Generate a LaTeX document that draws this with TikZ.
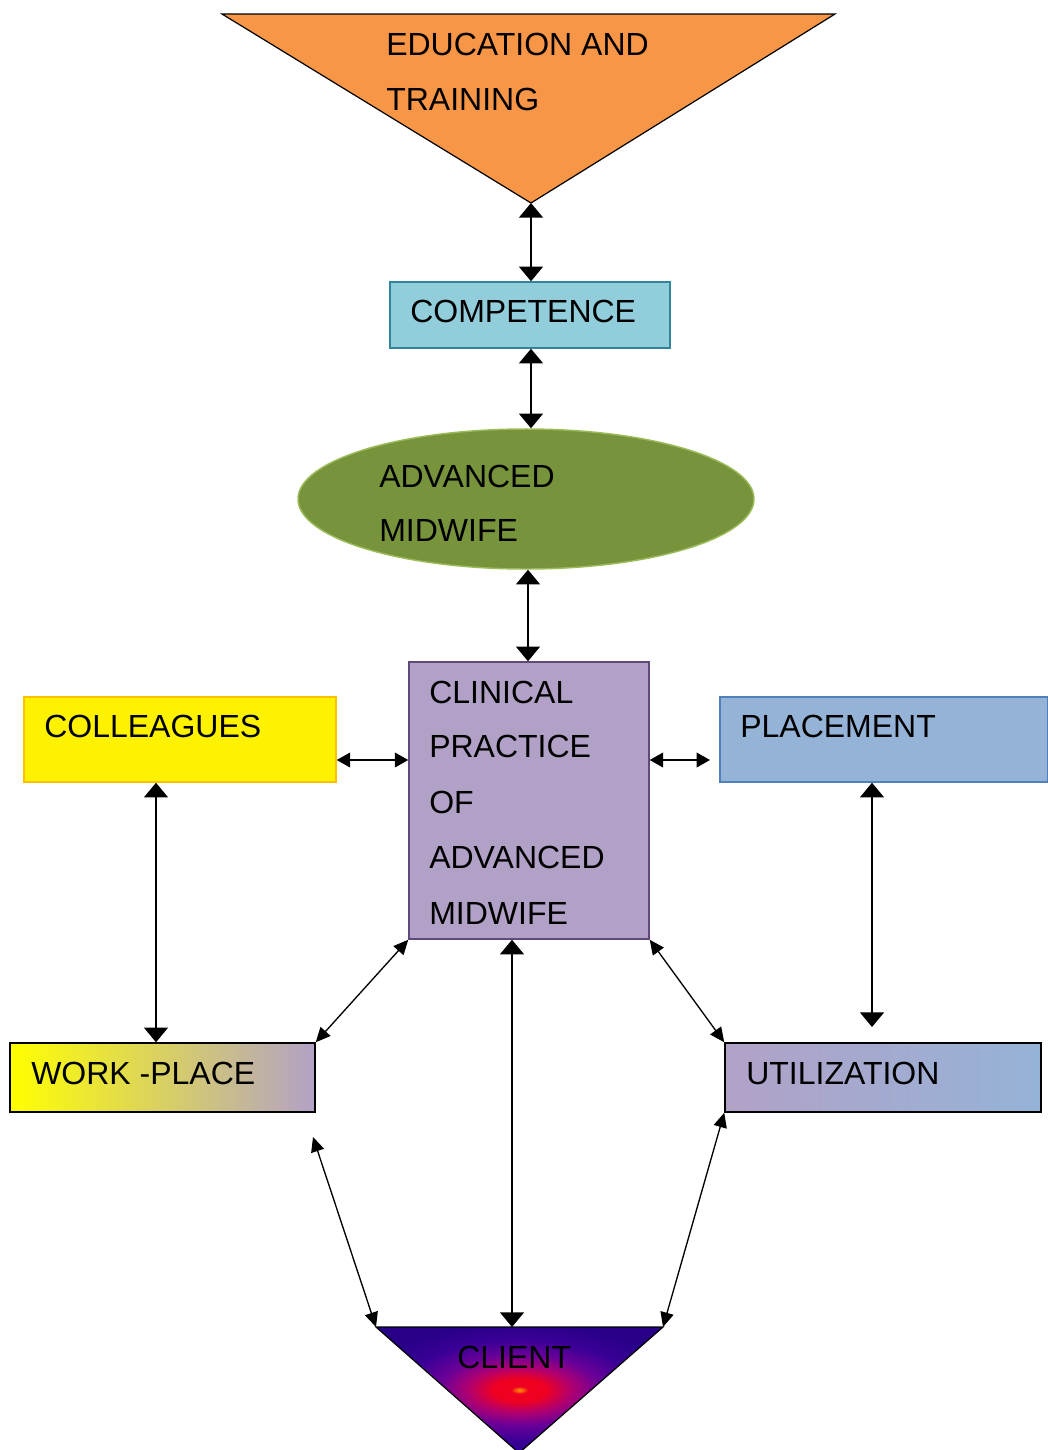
\documentclass[tikz,border=0pt]{standalone}
\usepackage{fontspec}
\setmainfont{Liberation Sans}
\usetikzlibrary{arrows.meta,shapes.geometric,calc}
\definecolor{eduorange}{HTML}{F79646}
\definecolor{compfill}{HTML}{92CDDC}
\definecolor{compline}{HTML}{31849B}
\definecolor{ellfill}{HTML}{77933C}
\definecolor{ellline}{HTML}{9BBB59}
\definecolor{clinfill}{HTML}{B2A1C7}
\definecolor{clinline}{HTML}{5F497A}
\definecolor{collline}{HTML}{FFC000}
\definecolor{placefill}{HTML}{95B3D7}
\definecolor{placeline}{HTML}{4F81BD}
\definecolor{clOrange}{HTML}{FF9A00}
\definecolor{clRed}{HTML}{F00020}
\definecolor{clMag}{HTML}{B00070}
\definecolor{clPur}{HTML}{6A0098}
\definecolor{clBlue}{HTML}{3A0096}
\definecolor{clNavy}{HTML}{280088}
\pgfdeclareradialshading{clientsh}{\pgfpointorigin}{color(0bp)=(clOrange); color(1.5bp)=(clRed); color(4.5bp)=(clRed); color(9bp)=(clMag); color(14bp)=(clPur); color(20bp)=(clBlue); color(27bp)=(clNavy); color(50bp)=(clNavy)}
\begin{document}
\begin{tikzpicture}[x=0.75pt,y=-0.75pt,
  lbl/.style={anchor=base west, inner sep=0pt, font=\fontsize{24pt}{28pt}\selectfont, text=black},
  boxb/.style={draw, line width=1.1pt, inner sep=0pt},
  dbig/.style={line width=1.1pt, {Triangle[length=11pt,width=18pt]}-{Triangle[length=11pt,width=18pt]}},
  dmid/.style={line width=1.1pt, {Triangle[length=10pt,width=11pt]}-{Triangle[length=10pt,width=11pt]}},
  dsml/.style={line width=1pt, {Triangle[length=11pt,width=10pt]}-{Triangle[length=11pt,width=10pt]}}]
\useasboundingbox (0,0) rectangle (1047,1450);

% top triangle
\draw[fill=eduorange, line width=0.9pt] (222,14) coordinate (eduL) -- (835,14) coordinate (eduR) -- (531,203) coordinate (eduA) -- cycle;
\node[lbl] (t1) at (386,55) {EDUCATION AND};
\node[lbl] (t2) at (386,110) {TRAINING};

% competence
\node[boxb, draw=compline, fill=compfill, minimum width=280*0.75pt, minimum height=66*0.75pt] (comp) at (530,315) {};
\node[lbl] (t3) at (410,322) {COMPETENCE};

% ellipse
\node[ellipse, draw=ellline, fill=ellfill, line width=1.1pt, inner sep=0pt, minimum width=456*0.75pt, minimum height=140*0.75pt] (ell) at (526,499) {};
\node[lbl] (t4) at (379,487) {ADVANCED};
\node[lbl] (t5) at (379,541) {MIDWIFE};

% clinical
\node[boxb, draw=clinline, fill=clinfill, minimum width=240*0.75pt, minimum height=277*0.75pt] (clin) at (529,800.5) {};
\node[lbl] (t6) at (429,703) {CLINICAL};
\node[lbl] (t7) at (429,757) {PRACTICE};
\node[lbl] (t8) at (429,813) {OF};
\node[lbl] (t9) at (429,868) {ADVANCED};
\node[lbl] (t10) at (429,924) {MIDWIFE};

% colleagues / placement
\node[boxb, draw=collline, fill=yellow, minimum width=312*0.75pt, minimum height=85*0.75pt] (coll) at (180,739.5) {};
\node[lbl] (t11) at (44,737) {COLLEAGUES};
\node[boxb, draw=placeline, fill=placefill, minimum width=328*0.75pt, minimum height=85*0.75pt] (place) at (884,739.5) {};
\node[lbl] (t12) at (740,737) {PLACEMENT};

% work-place / utilization
\node[boxb, draw=black, left color=yellow, right color=clinfill, minimum width=305*0.75pt, minimum height=69*0.75pt] (wp) at (162.5,1077.5) {};
\node[lbl] (t13) at (31,1084) {WORK -PLACE};
\node[boxb, draw=black, left color=clinfill, right color=placefill, minimum width=316*0.75pt, minimum height=69*0.75pt] (util) at (883,1077.5) {};
\node[lbl] (t14) at (746,1084) {UTILIZATION};

% client triangle
\shadedraw[shading=clientsh, draw=black, line width=0.9pt] (376,1327) coordinate (clL) -- (663,1327) coordinate (clR) -- (519,1453) coordinate (clA) -- cycle;
\node[lbl] (t15) at (457,1368) {CLIENT};

% helper coordinates
\coordinate (hl) at (0,760);
\coordinate (vl) at (156,0);
\coordinate (vr) at (872,0);
\coordinate (vc) at (512,0);
\coordinate (vm) at (528,0);
\coordinate (plEnd) at (710,760);
\coordinate (prEnd) at (872,1027);
\coordinate (wpFree) at (313,1137);
\coordinate (clT) at (512,1327);

% connectors
\draw[dbig] (eduA) -- (comp.north -| eduA);
\draw[dbig] (comp.south -| eduA) -- (ell.north -| eduA);
\draw[dbig] (ell.south -| vm) -- (clin.north -| vm);
\draw[dmid] (coll.east |- hl) -- (clin.west |- hl);
\draw[dmid] (clin.east |- hl) -- (plEnd);
\draw[dbig] (coll.south -| vl) -- (wp.north -| vl);
\draw[dbig] (place.south -| vr) -- (prEnd);
\draw[dsml] (clin.south west) -- (wp.north east);
\draw[dsml] (clin.south east) -- (util.north west);
\draw[dbig] (clin.south -| vc) -- (clT);
\draw[dsml] (wpFree) -- (clL);
\draw[dsml] (util.south west) -- (clR);
\end{tikzpicture}
\end{document}
